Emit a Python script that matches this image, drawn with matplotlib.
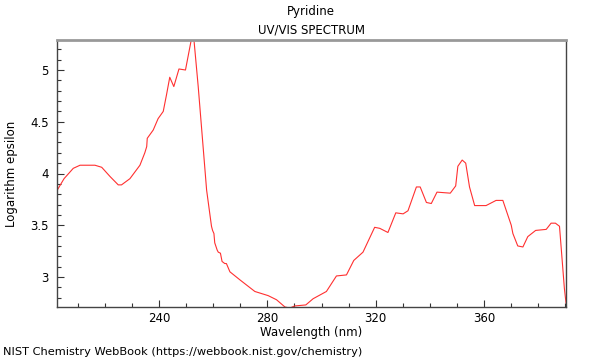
import matplotlib
matplotlib.use("Agg")
import matplotlib.pyplot as plt
from matplotlib.ticker import MultipleLocator

wavelength = [202.5, 205.0, 208.4, 210.9, 216.4, 218.9, 222.0, 225.0, 226.2, 229.3, 233.0,
              234.8, 235.5, 235.7, 237.9, 239.7, 241.6, 242.8, 244.0, 245.5, 247.4, 249.8,
              252.0, 252.9, 254.5, 256.3, 257.6, 259.4, 259.8, 260.3, 260.6,
              261.5, 261.9, 262.7, 263.3, 264.3, 264.9, 266.2, 270.0, 275.4, 280.3, 283.4,
              286.5, 288.3, 290.1, 294.2, 296.9, 301.8, 305.5, 309.2, 311.9, 315.3, 319.6,
              321.5, 324.5, 327.4, 330.1, 331.9, 335.0, 336.4, 338.7, 340.5, 342.6, 347.5,
              349.5, 350.3, 351.9, 353.2, 354.6, 356.5, 360.7, 364.4, 366.9, 370.0, 370.6,
              372.4, 374.3, 376.1, 379.0, 382.9, 384.7, 386.3, 387.8, 389.6, 390.2]
log_eps = [3.84, 3.95, 4.05, 4.08, 4.08, 4.06, 3.97, 3.89, 3.89, 3.95, 4.08,
           4.20, 4.26, 4.34, 4.42, 4.53, 4.60, 4.76, 4.93, 4.84, 5.01, 5.00,
           5.30, 5.30, 4.84, 4.26, 3.84, 3.49, 3.45, 3.42, 3.33,
           3.26, 3.24, 3.23, 3.15, 3.13, 3.13, 3.05, 2.97, 2.86, 2.82, 2.78,
           2.71, 2.70, 2.72, 2.73, 2.79, 2.86, 3.01, 3.02, 3.16, 3.24, 3.48,
           3.47, 3.43, 3.62, 3.61, 3.64, 3.87, 3.87, 3.72, 3.71, 3.82, 3.81,
           3.88, 4.07, 4.13, 4.10, 3.87, 3.69, 3.69, 3.74, 3.74, 3.50, 3.42,
           3.30, 3.29, 3.39, 3.45, 3.46, 3.52, 3.52, 3.49, 2.89, 2.75]

x_ticks = [240, 280, 320, 360]
y_ticks = [3, 3.5, 4, 4.5, 5]
y_labels = ["3", "3.5", "4", "4.5", "5"]

fig = plt.figure(figsize=(6, 3.6), dpi=100)
ax = fig.add_axes([57/600, 53/360, 509/600, 267/360])
ax.plot(wavelength, log_eps, color="#ff3030", lw=0.8)
ax.set_xlim(202.4, 390.2)
ax.set_ylim(2.71, 5.29)
ax.set_xticks(x_ticks)
ax.set_yticks(y_ticks)
ax.set_yticklabels(y_labels)
ax.xaxis.set_minor_locator(MultipleLocator(10))
ax.yaxis.set_minor_locator(MultipleLocator(0.1))
ax.tick_params(which="both", direction="in", labelsize=8.5, colors="#333333", labelcolor="black")
ax.tick_params(which="major", length=5, width=0.8)
ax.tick_params(which="minor", length=3, width=0.8)
ax.tick_params(axis="y", pad=6)
for s in ["left", "bottom", "right"]:
    ax.spines[s].set_color("#444444")
    ax.spines[s].set_linewidth(1.0)
ax.spines["top"].set_color("#999999")
ax.spines["top"].set_linewidth(2.0)
ax.set_xlabel("Wavelength (nm)", fontsize=8.5, labelpad=1)
ax.set_ylabel("Logarithm epsilon", fontsize=8.5, labelpad=9)
fig.text(311/600, 1 - 12/360, "Pyridine", ha="center", va="center", fontsize=8.5)
fig.text(311/600, 1 - 30/360, "UV/VIS SPECTRUM", ha="center", va="center", fontsize=8.5)
fig.text(3/600, 1 - 352/360, "NIST Chemistry WebBook (https://webbook.nist.gov/chemistry)",
         ha="left", va="center", fontsize=8.2)
fig.savefig("out.png", dpi=100)
